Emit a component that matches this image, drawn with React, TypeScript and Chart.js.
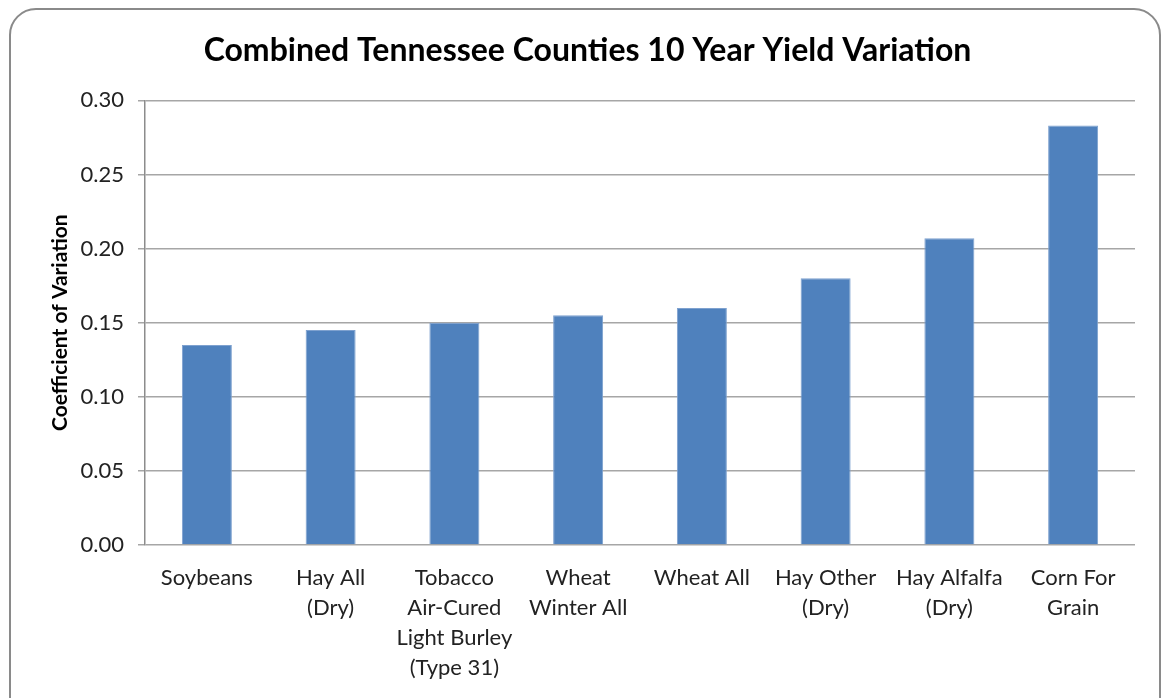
import React, { useEffect, useRef } from "react";
import { Chart, registerables } from "chart.js";

Chart.register(...registerables);

const chartTitle = "Combined Tennessee Counties 10 Year Yield Variation";
const yAxisTitle = "Coefficient of Variation";
const categories: string[][] = [
  ["Soybeans"],
  ["Hay All", "(Dry)"],
  ["Tobacco", "Air-Cured", "Light Burley", "(Type 31)"],
  ["Wheat", "Winter All"],
  ["Wheat All"],
  ["Hay Other", "(Dry)"],
  ["Hay Alfalfa", "(Dry)"],
  ["Corn For", "Grain"],
];
const variation: number[] = [0.135, 0.145, 0.15, 0.155, 0.16, 0.18, 0.207, 0.283];
const yTicks: number[] = [0, 0.05, 0.1, 0.15, 0.2, 0.25, 0.3];

const LABEL_FONT = "Lato, 'Open Sans', sans-serif";

const framePlugin = {
  id: "frame",
  beforeDraw(chart: any) {
    const ctx = chart.ctx;
    ctx.save();
    ctx.fillStyle = "#ffffff";
    ctx.fillRect(0, 0, chart.width, chart.height);
    ctx.strokeStyle = "#8a8a8a";
    ctx.lineWidth = 2;
    ctx.beginPath();
    ctx.roundRect(10, 9, 1150, 760, 26);
    ctx.stroke();
    ctx.restore();
  },
};

export default function App() {
  const ref = useRef<HTMLCanvasElement | null>(null);
  useEffect(() => {
    if (!ref.current) return;
    const chart = new Chart(ref.current, {
      type: "bar",
      data: {
        labels: categories,
        datasets: [
          {
            data: variation,
            backgroundColor: "#4F81BD",
            borderColor: "#7EA1CF",
            borderWidth: 1,
            categoryPercentage: 1,
            barPercentage: 0.404,
          },
        ],
      },
      plugins: [framePlugin],
      options: {
        responsive: false,
        animation: false,
        layout: { padding: { left: 40, right: 30, top: 0, bottom: 0 } },
        plugins: {
          legend: { display: false },
          tooltip: { enabled: false },
          title: {
            display: true,
            text: chartTitle,
            color: "#000000",
            font: { family: LABEL_FONT, size: 32, weight: "bold" },
            padding: { top: 31, bottom: 31 },
          },
        },
        scales: {
          x: {
            grid: { display: false },
            border: { display: false },
            afterFit: (scale: any) => {
              scale.height = 153;
            },
            ticks: {
              color: "#222222",
              font: { family: LABEL_FONT, size: 22, lineHeight: 1.36 },
              padding: 10,
              maxRotation: 0,
              autoSkip: false,
            },
          },
          y: {
            min: 0,
            max: 0.3,
            afterBuildTicks: (scale: any) => {
              scale.ticks = yTicks.map((v) => ({ value: v }));
            },
            afterFit: (scale: any) => {
              scale.width = 105;
            },
            grid: {
              color: "#a6a6a6",
              lineWidth: 1.5,
              tickLength: 7,
              drawTicks: true,
            },
            border: { display: true, color: "#8c8c8c", width: 1.5 },
            ticks: {
              color: "#222222",
              font: { family: LABEL_FONT, size: 22 },
              padding: 14,
              callback: (v: any) => Number(v).toFixed(2),
            },
            title: {
              display: true,
              text: yAxisTitle,
              color: "#000000",
              font: { family: LABEL_FONT, size: 21, weight: "bold" },
              padding: { top: 8, bottom: 0 },
            },
          },
        },
      },
    });
    return () => chart.destroy();
  }, []);
  return (
    <div style={{ position: "fixed", left: 0, top: 0, width: 1165, height: 698, background: "#fff" }}>
      <canvas ref={ref} width={1165} height={698} />
    </div>
  );
}
